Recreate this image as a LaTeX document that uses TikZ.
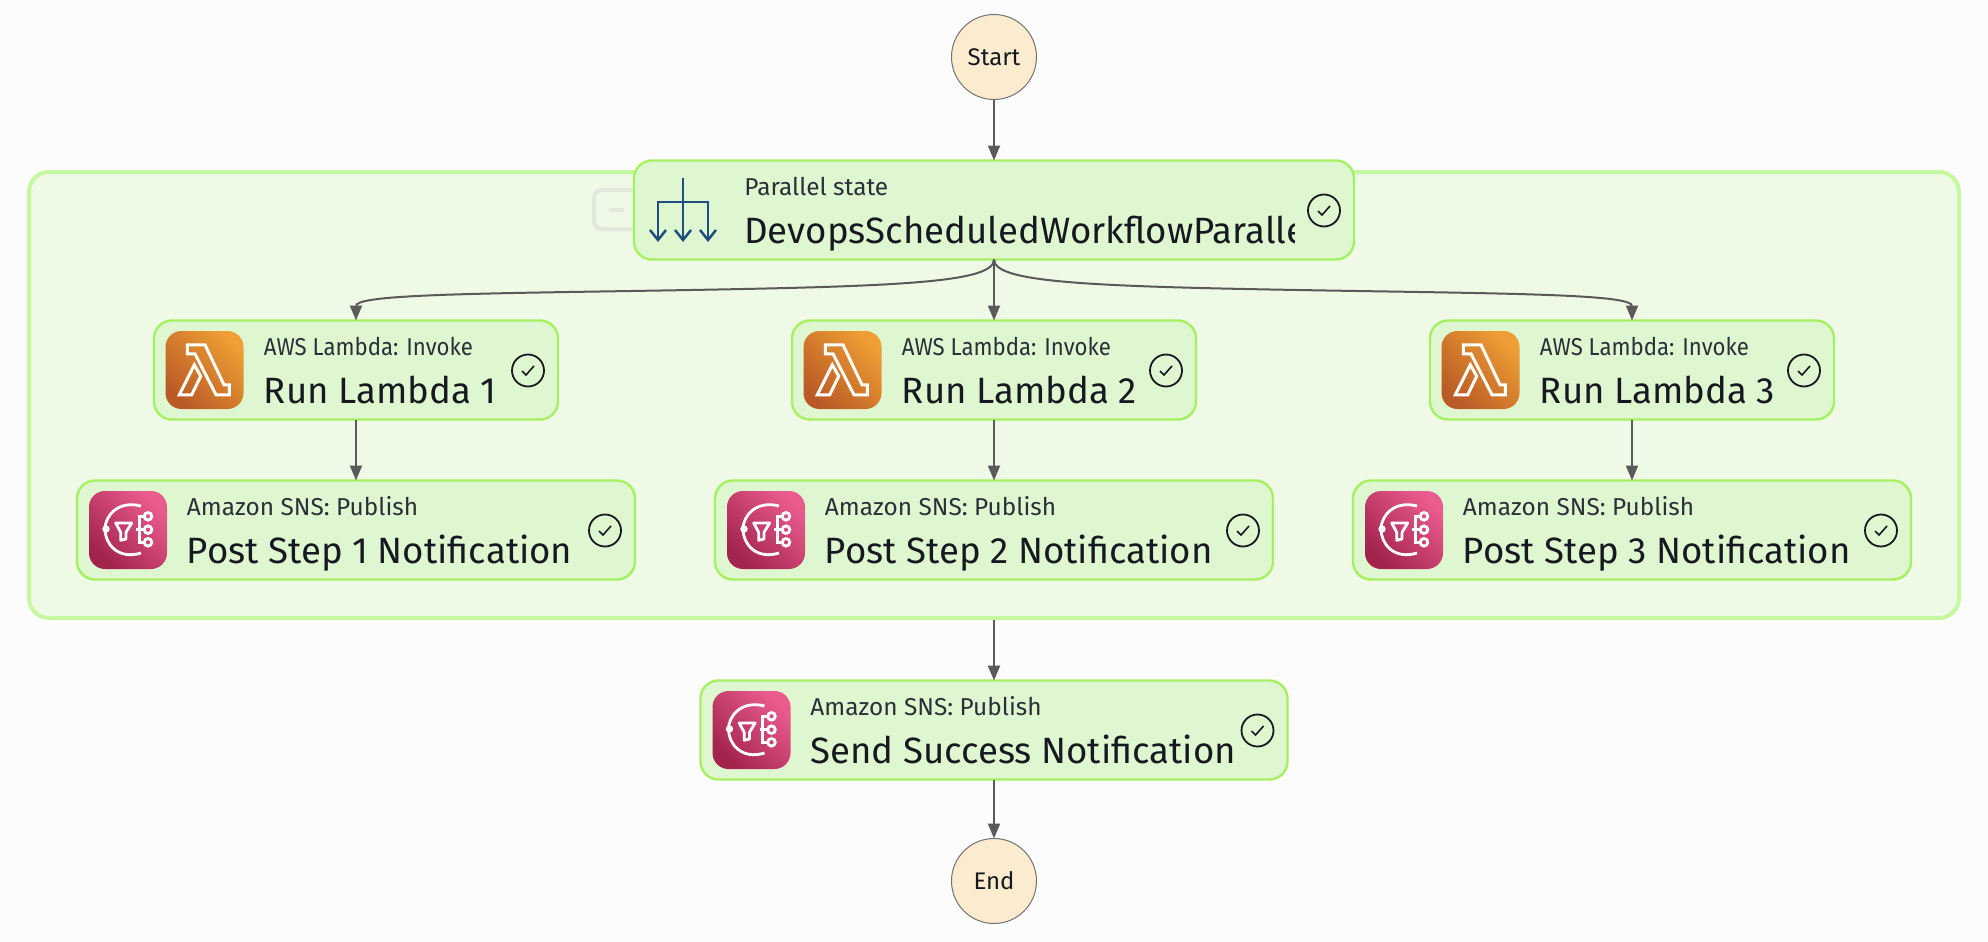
\documentclass[tikz,border=0pt]{standalone}
\usepackage{fontspec}
\setmainfont{Fira Sans}
\usepackage{xcolor}
\usetikzlibrary{calc}
\usetikzlibrary{positioning}
\usetikzlibrary{arrows.meta}
\definecolor{pagebg}{HTML}{FCFCFC}
\definecolor{groupfill}{HTML}{EEF9E6}
\definecolor{groupline}{HTML}{C6F8A2}
\definecolor{foldline}{HTML}{E1E9DC}
\definecolor{statefill}{HTML}{DFF7D0}
\definecolor{stateline}{HTML}{A6F062}
\definecolor{endfill}{HTML}{FBEBCF}
\definecolor{flowgray}{HTML}{5A5A5A}
\definecolor{inkdark}{HTML}{16191F}
\definecolor{inksoft}{HTML}{2A3038}
\definecolor{parblue}{HTML}{1F4E7F}
\definecolor{lambdalight}{HTML}{EE9E34}
\definecolor{lambdadark}{HTML}{BA5A26}
\definecolor{snslight}{HTML}{EA5C8E}
\definecolor{snsdark}{HTML}{A2234C}
\tikzset{
	group/.style={draw=groupline, fill=groupfill, line width=2pt, rounded corners=10pt, minimum width=965pt, minimum height=223pt},
	collapse/.style={draw=foldline, line width=2pt, rounded corners=4pt, minimum width=28pt, minimum height=19.5pt, inner sep=0pt},
	state/.style={draw=stateline, fill=statefill, line width=1.2pt, rounded corners=9pt, minimum height=49.5pt, inner sep=0pt, outer sep=0pt},
	term/.style={draw=black!55, fill=endfill, circle, line width=0.5pt, minimum size=42.5pt, inner sep=0pt, outer sep=0pt, text=inkdark, font=\fontsize{12}{14}\selectfont},
	tagtext/.style={anchor=base west, inner sep=0pt, text=inksoft, font=\fontsize{12.2}{14}\selectfont},
	titletext/.style={anchor=base west, inner sep=0pt, text=inkdark, font=\fontsize{18.3}{20}\selectfont},
	flow/.style={draw=flowgray, line width=1pt, -{Triangle[length=7.5pt,width=6pt]}},
	checkmark/.pic={
		\draw[inkdark, line width=0.9pt] (0,0) circle[radius=16];
		\draw[inkdark, line width=0.8pt] (-6,0.5) -- (-2,4.5) -- (6,-4.5);
	},
	lambdaicon/.pic={
		\path[rounded corners=8pt, top color=lambdalight, bottom color=lambdadark, shading angle=-45] (-39,-39) rectangle (39,39);
		\draw[white, line width=1.5pt, line join=miter] (-17.2,-25.2) -- (0.5,-25.2) -- (19.5,14.8) -- (24.8,14.8) -- (24.8,24.8) -- (11.5,24.8) -- (-9.5,-16.2) -- (-17.2,-16.2) -- cycle;
		\draw[white, line width=1.5pt, line join=miter] (-10.2,-5.2) -- (-3.8,6.2) -- (-12.8,24.8) -- (-25.2,24.8) -- cycle;
	},
	snsicon/.pic={
		\path[rounded corners=8pt, top color=snslight, bottom color=snsdark, shading angle=-45] (-39,-39) rectangle (39,39);
		\draw[white, line width=1.4pt] (13,-24) .. controls (-10,-30) and (-23,-14) .. (-23,-1) .. controls (-23,14) and (-10,30) .. (13,23);
		\draw[white, line width=1.4pt] (-22,-1) circle[radius=2.2];
		\draw[white, line width=1.4pt, line join=round] (-12.3,-7) -- (3.7,-7) -- (-2,2.3) -- (-2,9) -- (-7.3,10.3) -- (-7.3,2.3) -- cycle;
		\draw[white, line width=1.4pt] (16,-13.7) -- (11.3,-13.7) -- (11.3,12.3) -- (16,12.3);
		\draw[white, line width=1.4pt] (8,-0.3) -- (16,-0.3);
		\draw[white, line width=1.4pt] (20,-13.7) circle[radius=3.8];
		\draw[white, line width=1.4pt] (20,-0.3) circle[radius=3.8];
		\draw[white, line width=1.4pt] (20,12.3) circle[radius=3.8];
	},
}
% tag line, title and tick of one state box
\newcommand{\statetext}[3]{
	\node[tagtext] (#1tag) at ($(#1.north west)+(109.5,35)$) {#2};
	\node[titletext] (#1title) at ($(#1.north west)+(109.5,83)$) {#3};
	\pic (#1check) at ($(#1.north east)+(-30,50)$) {checkmark};
}
% this tag runs too wide in the font
\newcommand{\lambdatag}{\addfontfeature{FakeStretch=0.91}AWS Lambda: Invoke}

\begin{document}
\begin{tikzpicture}[x=0.5pt, y=-0.5pt]
	\useasboundingbox (0,0) rectangle (1988,942);
	\fill[pagebg] (0,0) rectangle (1988,942);

	\node[group] (outer) at (994,395) {};
	\node[collapse] (fold) at (622,209.5) {};
	\draw[draw=foldline, line width=2pt] (609,209.5) -- (624,209.5);

	\node[term] (start) at (994,57) {Start};
	\node[state, minimum width=360pt] (par) [below=30.5pt of start] {};
	\node[state, minimum width=202pt] (L2) [below=30.5pt of par] {};
	\node[state, minimum width=202pt] (L1) [left=117pt of L2] {};
	\node[state, minimum width=202pt] (L3) [right=117pt of L2] {};
	\node[state, minimum width=279pt] (S1) [below=30.5pt of L1] {};
	\node[state, minimum width=279pt] (S2) [below=30.5pt of L2] {};
	\node[state, minimum width=279pt] (S3) [below=30.5pt of L3] {};
	\node[state, minimum width=293.5pt] (send) [below=50.5pt of S2] {};
	\node[term] (end) [below=29.5pt of send] {End};

	% parallel state, its long name is cut off
	\node[tagtext] (partag) at ($(par.north west)+(110,35)$) {Parallel state};
	\begin{scope}
		\clip (par.north west) rectangle ($(par.south west)+(660,0)$);
		\node[titletext] (partitle) at ($(par.north west)+(110,83)$) {DevopsScheduledWorkflowParalle};
	\end{scope}
	\pic (parcheck) at ($(par.north east)+(-30,50)$) {checkmark};
	\begin{scope}[draw=parblue, line width=1.25pt]
		\draw (683,178) -- (683,240);
		\draw (658,240) -- (658,202) -- (708,202) -- (708,240);
		\draw (675,230) -- (683,240) -- (691,230);
		\draw (650,230) -- (658,240) -- (666,230);
		\draw (700,230) -- (708,240) -- (716,230);
	\end{scope}

	\pic (L1icon) at ($(L1.west)+(50.5,0)$) {lambdaicon};
	\statetext{L1}{\lambdatag}{Run Lambda 1}
	\pic (L2icon) at ($(L2.west)+(50.5,0)$) {lambdaicon};
	\statetext{L2}{\lambdatag}{Run Lambda 2}
	\pic (L3icon) at ($(L3.west)+(50.5,0)$) {lambdaicon};
	\statetext{L3}{\lambdatag}{Run Lambda 3}
	\pic (S1icon) at ($(S1.west)+(51,0)$) {snsicon};
	\statetext{S1}{Amazon SNS: Publish}{Post Step 1 Notification}
	\pic (S2icon) at ($(S2.west)+(51,0)$) {snsicon};
	\statetext{S2}{Amazon SNS: Publish}{Post Step 2 Notification}
	\pic (S3icon) at ($(S3.west)+(51,0)$) {snsicon};
	\statetext{S3}{Amazon SNS: Publish}{Post Step 3 Notification}
	\pic (sendicon) at ($(send.west)+(51,0)$) {snsicon};
	\statetext{send}{Amazon SNS: Publish}{Send Success Notification}

	\draw[flow] (start) -- (par);
	\draw[flow] (par.south) .. controls (994,285) and (880,287) .. (600,291.5) .. controls (440,294) and (356,296) .. (L1.north);
	\draw[flow] (par.south) .. controls (994,285) and (1108,287) .. (1388,291.5) .. controls (1548,294) and (1632,296) .. (L3.north);
	\draw[flow] (par) -- (L2);
	\draw[flow] (L1) -- (S1);
	\draw[flow] (L2) -- (S2);
	\draw[flow] (L3) -- (S3);
	\draw[flow] (outer.south) -- (send.north);
	\draw[flow] (send) -- (end);
\end{tikzpicture}
\end{document}
